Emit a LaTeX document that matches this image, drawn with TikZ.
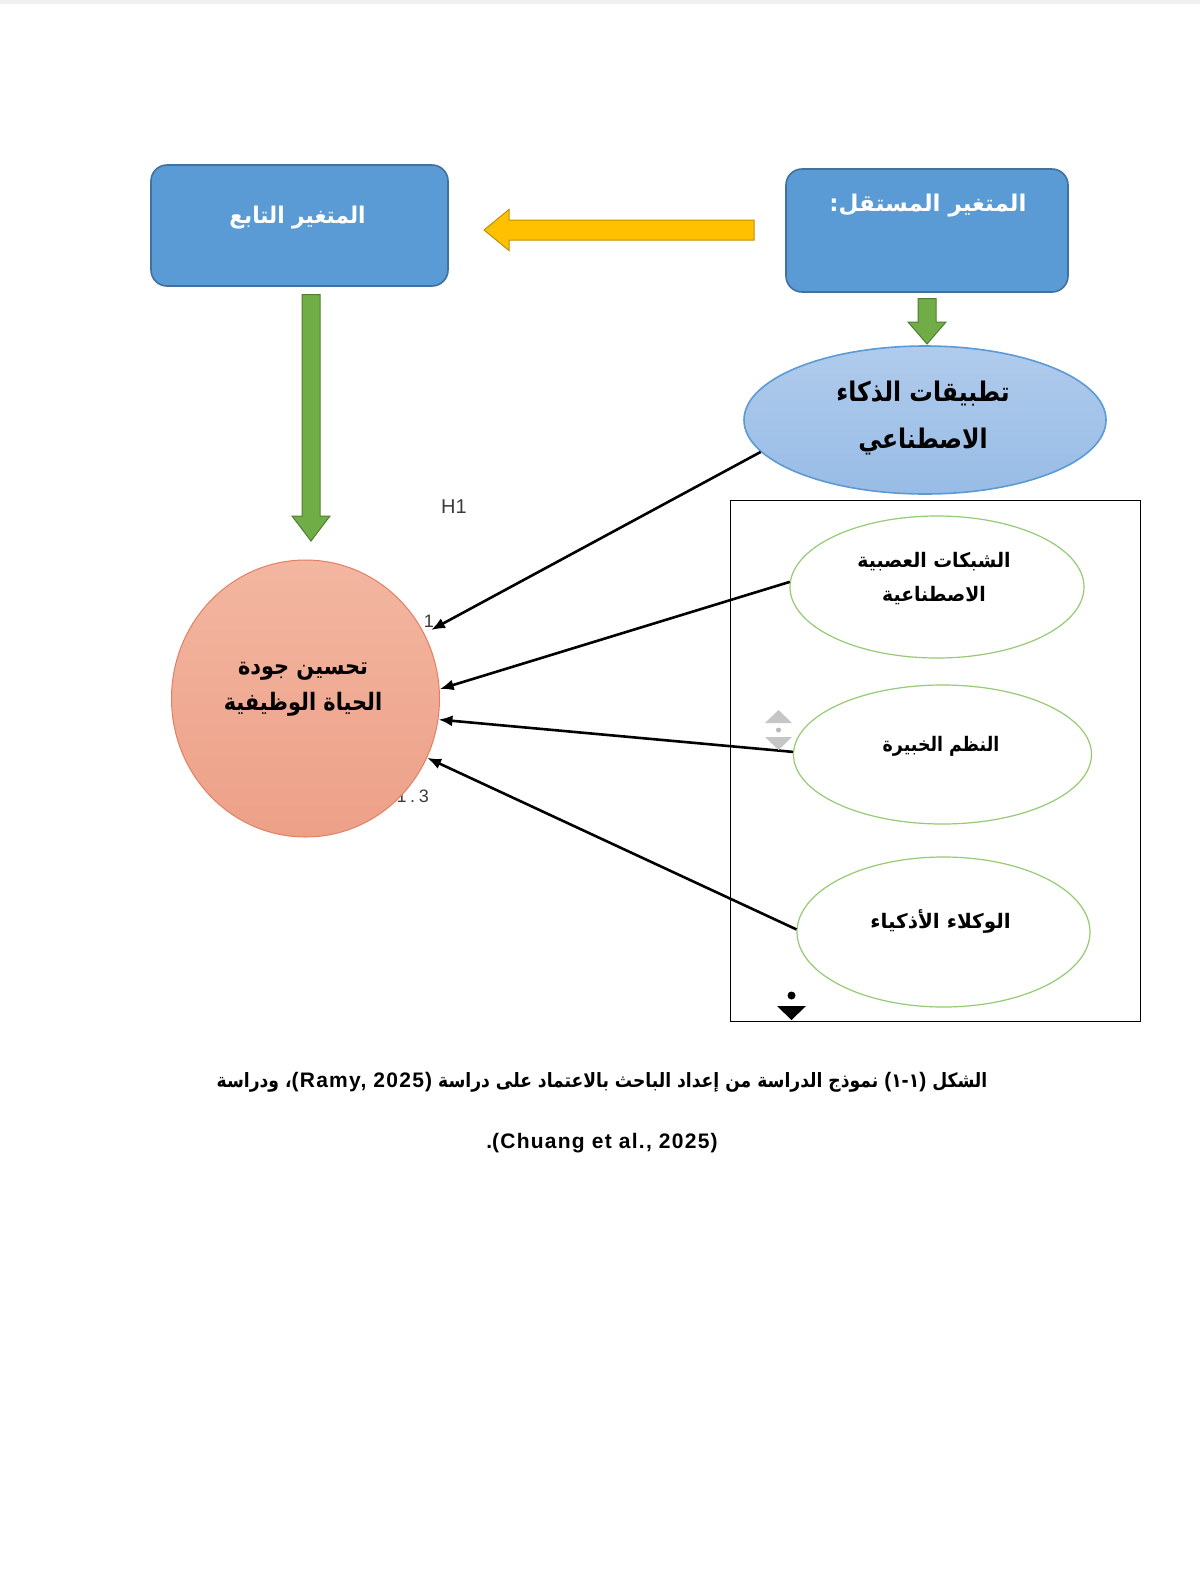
\documentclass[tikz,border=0pt]{standalone}
\usepackage{fontspec}
\setmainfont{Liberation Sans}
\newfontfamily\arabicfont[Script=Arabic]{DejaVu Sans}
\newfontfamily\arabicmid[Script=Arabic, FakeStretch=0.94]{DejaVu Sans}
\newfontfamily\arabicnarrow[Script=Arabic, FakeStretch=0.87]{DejaVu Sans}
\newfontfamily\latinfont{Liberation Sans}
\newfontfamily\latincap[LetterSpace=6]{Liberation Sans}
\newfontfamily\labelfont[LetterSpace=20]{Liberation Sans}
\TeXXeTstate=1
\usetikzlibrary{shapes.geometric,arrows.meta,calc}
\definecolor{boxblue}{RGB}{91,155,213}
\definecolor{boxblueline}{RGB}{65,113,156}
\definecolor{arrowyellow}{RGB}{255,192,0}
\definecolor{arrowyellowline}{RGB}{191,144,0}
\definecolor{arrowgreen}{RGB}{112,173,71}
\definecolor{arrowgreenline}{RGB}{80,126,50}
\definecolor{elltop}{RGB}{176,203,236}
\definecolor{ellbot}{RGB}{152,188,230}
\definecolor{ellline}{RGB}{91,155,213}
\definecolor{salmontop}{RGB}{243,182,160}
\definecolor{salmonbot}{RGB}{237,160,136}
\definecolor{salmonline}{RGB}{226,128,100}
\definecolor{lightgreen}{RGB}{150,202,115}
\definecolor{labelgray}{RGB}{60,60,60}
\tikzset{
  bluebox/.style={draw=boxblueline, line width=1.6pt, fill=boxblue, rounded corners=16pt, inner sep=0pt},
  boxtext/.style={text=white, inner sep=0pt},
  aiell/.style={ellipse, draw=ellline, line width=1.6pt, top color=elltop, bottom color=ellbot, inner sep=0pt, minimum width=362pt, minimum height=148pt},
  aitext/.style={font=\arabicnarrow\bfseries\fontsize{27}{47}\selectfont, text=black, align=center, inner sep=0pt},
  subell/.style={ellipse, draw=lightgreen, line width=1.2pt, fill=white, inner sep=0pt},
  subtext/.style={text=black, align=center, inner sep=0pt},
  outcome/.style={ellipse, draw=salmonline, line width=1pt, top color=salmontop, bottom color=salmonbot, inner sep=0pt, minimum width=268pt, minimum height=277pt},
  outtext/.style={font=\arabicnarrow\bfseries\fontsize{24}{36}\selectfont, text=black, align=center, inner sep=0pt},
  link/.style={line width=2.6pt, black, -{Latex[length=14pt,width=11pt]}},
  hyplabel/.style={font=\latinfont\fontsize{18}{20}\selectfont, text=labelgray, inner sep=0pt},
  captext/.style={font=\arabicnarrow\bfseries\fontsize{19.7}{24}\selectfont, text=black, inner sep=0pt},
  greenblock/.style={fill=arrowgreen, draw=arrowgreenline, line width=1pt},
  yellowblock/.style={fill=arrowyellow, draw=arrowyellowline, line width=1pt}
}
\begin{document}
\begin{tikzpicture}[x=1pt,y=-1pt]
\useasboundingbox (0,0) rectangle (1200,1588);
\fill[white] (0,0) rectangle (1200,1588);
\fill[gray!12] (0,0) rectangle (1200,4);

% top boxes
\node[bluebox, minimum width=297pt, minimum height=121pt] (dep) at (299.5,225.5) {};
\node[boxtext, font=\arabicmid\bfseries\fontsize{23}{27}\selectfont] (deptxt) at (297.5,217.5) {\beginR المتغير التابع\endR};
\node[bluebox, minimum width=282pt, minimum height=123pt] (indep) at (927,230.5) {};
\node[boxtext, font=\arabicfont\bfseries\fontsize{23}{27}\selectfont] (indeptxt) at (928,206) {\beginR المتغير المستقل:\endR};

% block arrows
\draw[yellowblock] (754,220) -- (509,220) -- (509,209.5) -- (484,230) -- (509,250.5) -- (509,240) -- (754,240) -- cycle;
\draw[greenblock] (302,294.5) -- (320,294.5) -- (320,516) -- (330,516) -- (311,541) -- (292,516) -- (302,516) -- cycle;
\draw[greenblock] (918,298.5) -- (936,298.5) -- (936,322) -- (946,322) -- (927,344) -- (908,322) -- (918,322) -- cycle;

% AI ellipse
\node[aiell] (ai) at (925,420) {};
\node[aitext] (aitxt) at (923,418) {\beginR تطبيقات الذكاء\endR\\\beginR الاصطناعي\endR};

% frame with the three dimensions
\draw[black, line width=1pt] (730,500.5) rectangle (1140.5,1021);
\node[subell, minimum width=294pt, minimum height=142pt] (e1) at (937,587) {};
\node[subtext, font=\arabicmid\bfseries\fontsize{20}{34}\selectfont] (e1txt) at (934,579) {\beginR الشبكات العصبية\endR\\\beginR الاصطناعية\endR};
\node[subell, minimum width=298pt, minimum height=139pt] (e2) at (942.5,754.5) {};
\node[subtext, font=\arabicnarrow\bfseries\fontsize{20}{34}\selectfont] (e2txt) at (941,746) {\beginR النظم الخبيرة\endR};
\node[subell, minimum width=293pt, minimum height=150pt] (e3) at (943.5,932) {};
\node[subtext, font=\arabicfont\bfseries\fontsize{20}{34}\selectfont] (e3txt) at (940.5,921) {\beginR الوكلاء الأذكياء\endR};

% hypothesis labels (partly hidden behind the circle)
\node[hyplabel, anchor=base east] (h11) at (434,627) {1};
\node[hyplabel, font=\labelfont\fontsize{18}{20}\selectfont, anchor=base east] (h13) at (429,802) {1.3};
\node[hyplabel, font=\latinfont\fontsize{20}{22}\selectfont] (h1) at (454,507) {H1};

% outcome circle
\node[outcome] (circ) at (305.5,698.5) {};
\node[outtext] (circtxt) at (303,689) {\beginR تحسين جودة\endR\\\beginR الحياة الوظيفية\endR};

% connectors
\draw[link] (ai.191) -- ($(circ.center)+(125.5,-68.5)$);
\draw[link] (e1.178) -- (circ.4);
\draw[link] (e2.179) -- (circ.-9);
\draw[link] (e3.179) -- (circ.-26);

% small handle icons
\fill[gray!45] (765,723) -- (792,723) -- (778.5,710) -- cycle;
\fill[gray!55] (778.5,730) circle (2.5);
\fill[gray!45] (765,737) -- (792,737) -- (778.5,750) -- cycle;
\fill[black] (791.5,995.5) circle (4);
\fill[black] (777,1006) -- (806,1006) -- (791.5,1020) -- cycle;

% caption
\node[captext] (cap1) at (602,1082) {\beginR الشكل \beginL{\latincap\bfseries\fontsize{21}{24}\selectfont(}١-١{\latincap\bfseries\fontsize{21}{24}\selectfont)}\endL{} نموذج الدراسة من إعداد الباحث بالاعتماد على دراسة \beginL{\latincap\bfseries\fontsize{21}{24}\selectfont(Ramy, 2025)}\endL، ودراسة\endR};
\node[captext] (cap2) at (602,1143) {\beginR\beginL{\latincap\bfseries\fontsize{21}{24}\selectfont(Chuang et al., 2025)}\endL{\latincap\bfseries\fontsize{21}{24}\selectfont.}\endR};
\end{tikzpicture}
\end{document}
